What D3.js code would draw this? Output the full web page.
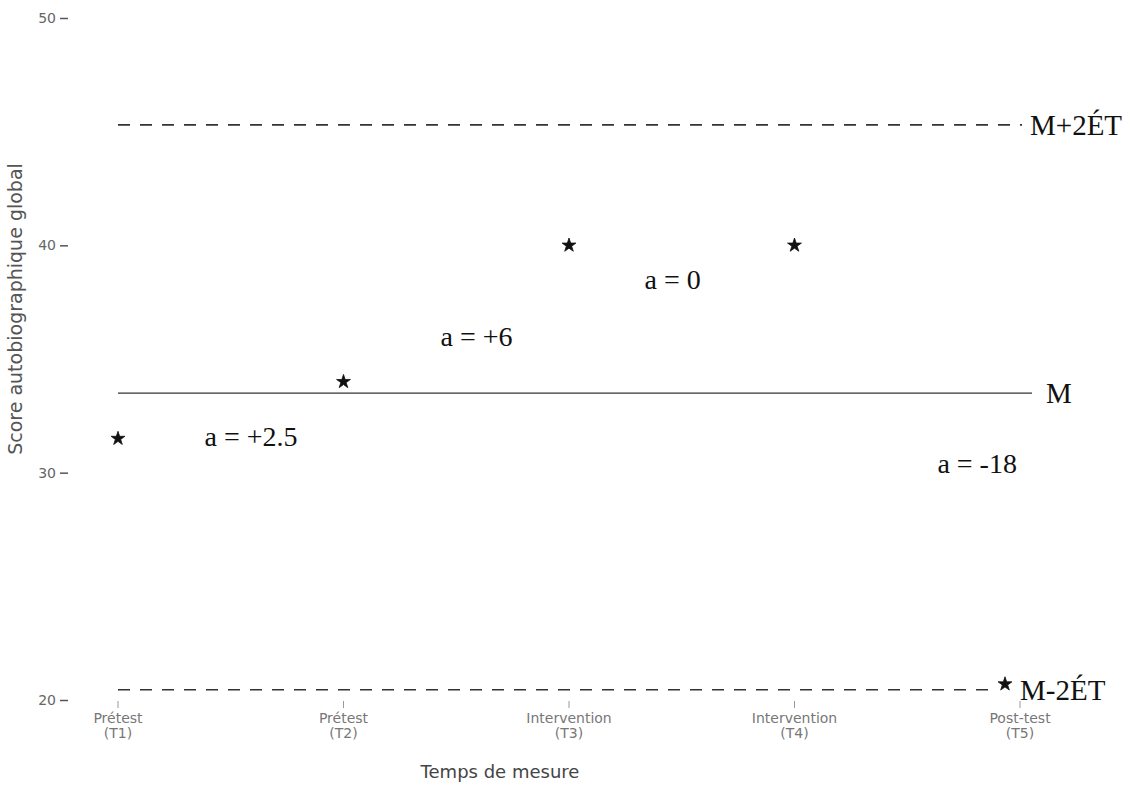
<!DOCTYPE html>
<html>
<head>
<meta charset="utf-8">
<script src="https://cdn.jsdelivr.net/npm/d3@7"></script>
<style>
  body { margin: 0; background: #fff; }
  svg { display: block; }
  .axis text { font-family: "DejaVu Sans", sans-serif; fill: #666; }
  .ann { font-family: "Liberation Serif", "Times New Roman", serif; fill: #111; }
</style>
</head>
<body>
<div id="chart"></div>
<script>
// data
const times = ["Prétest (T1)", "Prétest (T2)", "Intervention (T3)", "Intervention (T4)", "Post-test (T5)"];
const scores = [31.5, 34.0, 40.0, 40.0, 20.7];
const yTicks = [20, 30, 40, 50];
const meanVal = 33.5;
const upperVal = 45.3;   // M+2ÉT
const lowerVal = 20.45;  // M-2ÉT
const slopeText = ["a = +2.5", "a = +6", "a = 0", "a = -18"];
const slopeAt = [0.59, 1.59, 2.46, 3.81];   // position along the time axis (index units)
const slopeVal = [31.6, 36.0, 38.5, 30.4];  // position on the score axis

const width = 1146, height = 800;

const svg = d3.select("#chart")
  .append("svg")
  .attr("width", width)
  .attr("height", height);

let x = d3.scalePoint().domain(times).range([118, 1020]);
let xi = d3.scaleLinear().domain([0, times.length - 1]).range([118, 1020]);
let y = d3.scaleLinear().domain([20, 50]).range([700, 18]);

// y axis, no domain line
const yAxis = svg.append("g")
  .attr("class", "axis")
  .attr("transform", "translate(60,0)")
  .call(d3.axisLeft(y).tickValues(yTicks).tickSize(8).tickPadding(4));
yAxis.select(".domain").remove();
yAxis.selectAll(".tick line").attr("transform", "translate(8,0)").attr("stroke", "#555").attr("stroke-width", 1.5);
yAxis.selectAll("text").style("font-size", "14px").attr("dx", "8");

svg.append("text")
  .attr("class", "axis")
  .attr("transform", "translate(22," + y(37.2) + ") rotate(-90)")
  .attr("text-anchor", "middle")
  .style("font-family", "DejaVu Sans, sans-serif")
  .style("font-size", "19px")
  .style("fill", "#555")
  .text("Score autobiographique global");

// x axis ticks + two-line labels
const xg = svg.append("g").attr("class", "axis");
const tk = xg.selectAll("g").data(times).enter().append("g")
  .attr("transform", d => "translate(" + x(d) + ",0)");
tk.append("line").attr("y1", 701).attr("y2", 708).attr("stroke", "#999");
tk.append("text")
  .attr("text-anchor", "middle")
  .style("font-size", "14px")
  .style("fill", "#777")
  .selectAll("tspan")
  .data(d => { let m = d.match(/^(.*) (\(.*\))$/); return [m[1], m[2]]; })
  .enter().append("tspan")
  .attr("x", 0)
  .attr("y", (d, i) => 723 + i * 15)
  .text(d => d);

svg.append("text")
  .attr("x", 500).attr("y", 778)
  .attr("text-anchor", "middle")
  .style("font-family", "DejaVu Sans, sans-serif")
  .style("font-size", "18px")
  .style("fill", "#444")
  .text("Temps de mesure");

// reference lines
const refs = [
  {v: upperVal, label: "M+2ÉT", dash: "12,10", x2: 1022, lx: 1030},
  {v: meanVal, label: "M", dash: null, x2: 1032, lx: 1046},
  {v: lowerVal, label: "M-2ÉT", dash: "12,10", x2: 998, lx: 1020}
];
refs.forEach(r => {
  svg.append("line")
    .attr("x1", x(times[0])).attr("x2", r.x2)
    .attr("y1", y(r.v)).attr("y2", y(r.v))
    .attr("stroke", "#333")
    .attr("stroke-width", r.dash ? 1.6 : 1.3)
    .attr("stroke-dasharray", r.dash);
  svg.append("text")
    .attr("class", "ann")
    .attr("x", r.lx).attr("y", y(r.v))
    .attr("dy", "0.35em")
    .style("font-size", "29px")
    .text(r.label);
});

// score points as stars
svg.selectAll("path.pt").data(scores).enter().append("path")
  .attr("class", "pt")
  .attr("d", d3.symbol().type(d3.symbolStar).size(60))
  .attr("transform", (d, i) => "translate(" + (i === 4 ? 1005 : x(times[i])) + "," + y(d) + ")")
  .attr("fill", "#111")
  .attr("stroke", "#111")
  .attr("stroke-width", 0.8);

// slope annotations
svg.selectAll("text.slope").data(slopeText).enter().append("text")
  .attr("class", "ann slope")
  .attr("x", (d, i) => xi(slopeAt[i]))
  .attr("y", (d, i) => y(slopeVal[i]))
  .attr("text-anchor", "middle")
  .attr("dy", "0.35em")
  .style("font-size", "28px")
  .text(d => d);
</script>
</body>
</html>
